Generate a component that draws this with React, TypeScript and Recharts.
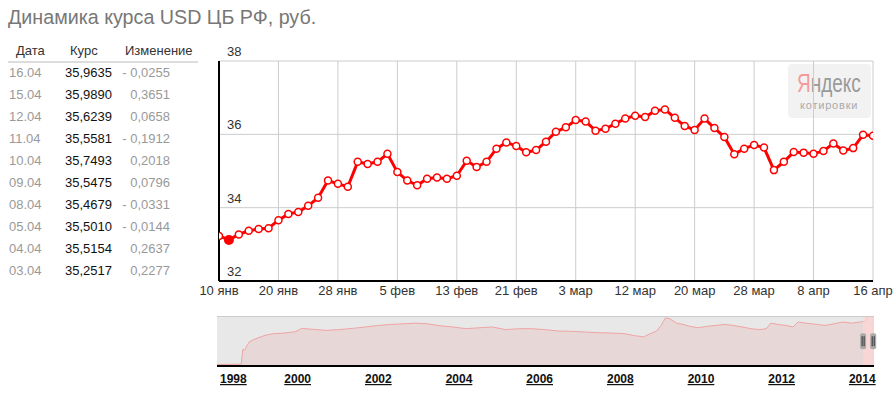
import React from "react";
import {
  LineChart,
  Line,
  XAxis,
  YAxis,
  CartesianGrid,
  AreaChart,
  Area,
  ReferenceArea,
  ReferenceDot,
  ReferenceLine,
} from "recharts";

const FONT = "Arial, 'Liberation Sans', sans-serif";

// курс USD ЦБ РФ, 10 янв – 16 апр 2014 (по точкам графика)
const rates = [
  33.23, 33.12, 33.27, 33.37, 33.42, 33.44, 33.66, 33.83, 33.88, 34.05,
  34.27, 34.74, 34.65, 34.57, 35.25, 35.19, 35.25, 35.47, 34.97, 34.74,
  34.61, 34.79, 34.82, 34.79, 34.87, 35.28, 35.11, 35.25, 35.61, 35.78,
  35.68, 35.51, 35.57, 35.8, 36.07, 36.19, 36.39, 36.35, 36.1, 36.15,
  36.29, 36.43, 36.51, 36.47, 36.64, 36.68, 36.45, 36.23, 36.12, 36.43,
  36.17, 35.93, 35.46, 35.61, 35.71, 35.64, 35.024, 35.2517, 35.5154, 35.501,
  35.4679, 35.5475, 35.7493, 35.5581, 35.6239, 35.989, 35.9635,
];

const xTicks = [0, 6, 12, 18, 24, 30, 36, 42, 48, 54, 60, 66];
const xTickLabels = [
  "10 янв", "20 янв", "28 янв", "5 фев", "13 фев", "21 фев",
  "3 мар", "12 мар", "20 мар", "28 мар", "8 апр", "16 апр",
];
const yTicks = [32, 34, 36, 38];

// таблица
const tableDates = ["16.04", "15.04", "12.04", "11.04", "10.04", "09.04", "08.04", "05.04", "04.04", "03.04"];
const tableRates = ["35,9635", "35,9890", "35,6239", "35,5581", "35,7493", "35,5475", "35,4679", "35,5010", "35,5154", "35,2517"];
const tableChanges = ["- 0,0255", "0,3651", "0,0658", "- 0,1912", "0,2018", "0,0796", "- 0,0331", "- 0,0144", "0,2637", "0,2277"];

// навигатор 1998–2014
const navYears = [
  1998.0, 1998.6, 1998.64, 1998.68, 1998.8, 1998.91, 1999.19, 1999.4, 1999.67, 1999.95,
  2000.1, 2000.38, 2000.7, 2001.03, 2001.36, 2001.68, 2002.0, 2002.33, 2002.66, 2002.93,
  2003.2, 2003.53, 2003.85, 2004.18, 2004.5, 2004.83, 2005.16, 2005.48, 2005.81, 2006.13,
  2006.46, 2006.79, 2007.11, 2007.44, 2007.76, 2008.09, 2008.36, 2008.58, 2008.74, 2008.9,
  2009.01, 2009.12, 2009.23, 2009.39, 2009.55, 2009.72, 2009.93, 2010.15, 2010.37, 2010.59,
  2010.8, 2011.02, 2011.24, 2011.45, 2011.62, 2011.73, 2011.89, 2012.11, 2012.28, 2012.41,
  2012.6, 2012.87, 2013.08, 2013.3, 2013.52, 2013.73, 2013.95, 2014.06, 2014.11, 2014.29,
];
const navValues = [
  5.96, 6.2, 15.7, 15.2, 20.6, 22.1, 24.8, 25.9, 26.3, 27.2,
  29.3, 28.7, 28.0, 28.5, 29.3, 30.2, 31.2, 31.9, 32.3, 32.7,
  32.3, 31.0, 30.2, 29.1, 29.7, 30.2, 28.5, 29.1, 29.1, 28.5,
  27.6, 27.4, 27.0, 26.5, 26.3, 25.9, 24.6, 23.8, 25.9, 27.6,
  31.2, 36.1, 35.5, 32.7, 31.9, 30.6, 29.7, 30.6, 31.2, 31.9,
  31.2, 30.2, 29.1, 28.5, 29.1, 32.7, 31.9, 31.2, 30.2, 33.4,
  32.7, 31.9, 31.2, 32.3, 33.4, 32.7, 33.4, 34.0, 36.6, 37.0,
];
const navTicks = [1998, 2000, 2002, 2004, 2006, 2008, 2010, 2012, 2014];
const navSelection = [2014.02, 2014.27];

const chartData = rates.map((v, i) => ({ i, v }));
const navData = navYears.map((year, k) => ({ year, v: navValues[k] }));
const minRate = Math.min(...rates);

const RateDot = (p: any) => {
  if (p.payload.v === minRate) {
    return <circle key={p.index} cx={p.cx} cy={p.cy} r={5} fill="#ff0000" />;
  }
  return (
    <circle key={p.index} cx={p.cx} cy={p.cy} r={3.5} fill="#fff" stroke="#ff0000" strokeWidth={1.5} />
  );
};

const YTick = (p: any) => (
  <text x={p.x + 8} y={p.y - 5} fontSize={13} fill="#333" fontFamily={FONT} textAnchor="start">
    {p.payload.value}
  </text>
);

const NavTick = (p: any) => {
  const first = p.payload.value === navTicks[0];
  return (
    <text
      x={first ? p.x + 3 : p.x}
      y={p.y + 9}
      fontSize={12}
      fontWeight="bold"
      fill="#111"
      fontFamily={FONT}
      textAnchor={first ? "start" : "middle"}
      textDecoration="underline"
    >
      {p.payload.value}
    </text>
  );
};

const Handle = (p: any) => (
  <g>
    <rect x={p.cx - 3} y={p.cy - 8} width={6} height={16} rx={2} fill="#aaa" />
    <line x1={p.cx - 1} x2={p.cx - 1} y1={p.cy - 5} y2={p.cy + 5} stroke="#333" strokeWidth={1} />
    <line x1={p.cx + 1} x2={p.cx + 1} y1={p.cy - 5} y2={p.cy + 5} stroke="#333" strokeWidth={1} />
  </g>
);

const cell = (left: number, color: string, extra?: React.CSSProperties): React.CSSProperties => ({
  position: "absolute",
  left,
  color,
  ...extra,
});

export default function App() {
  return (
    <div style={{ position: "absolute", left: 0, top: 0, width: 894, height: 395, fontFamily: FONT, overflow: "hidden", background: "#fff" }}>
      <div style={{ position: "absolute", left: 8, top: 6, fontSize: 19.7, color: "#777", whiteSpace: "nowrap" }}>
        Динамика курса USD ЦБ РФ, руб.
      </div>

      {/* таблица */}
      <div style={{ position: "absolute", left: 8, top: 40, width: 190, height: 21, borderBottom: "2px solid #ddd", fontSize: 13, lineHeight: "22px" }}>
        <span style={cell(8, "#333")}>Дата</span>
        <span style={cell(62, "#333")}>Курс</span>
        <span style={cell(117, "#333")}>Изменение</span>
      </div>
      {tableDates.map((d, k) => (
        <div key={d} style={{ position: "absolute", left: 8, top: 62 + k * 22, width: 190, height: 22, fontSize: 13, lineHeight: "22px" }}>
          <span style={cell(1, "#999")}>{d}</span>
          <span style={cell(57, "#111")}>{tableRates[k]}</span>
          <span style={cell(100, "#999", { width: 62, textAlign: "right" })}>{tableChanges[k]}</span>
        </div>
      ))}

      {/* водяной знак */}
      <div style={{ position: "absolute", left: 788, top: 64, width: 83, height: 54, background: "#f2f2f2", borderRadius: 4 }}>
        <svg width={83} height={54}>
          <g transform="translate(9,28) scale(0.76,1)">
            <text x={0} y={0} fontSize={25} fontFamily={FONT}>
              <tspan fill="#f59a9a">Я</tspan>
              <tspan fill="#9a9a9a">ндекс</tspan>
            </text>
          </g>
          <text x={12} y={45} fontSize={11} fontFamily={FONT} fill="#aaa" letterSpacing={0.8}>
            котировки
          </text>
        </svg>
      </div>

      <div style={{ position: "absolute", left: 0, top: 0 }}>
        <LineChart width={894} height={310} data={chartData} margin={{ top: 61, left: 159, right: 21, bottom: 0 }}>
          <CartesianGrid stroke="#ccc" strokeWidth={1} />
          <XAxis
            dataKey="i"
            type="number"
            domain={[0, 66]}
            allowDataOverflow
            ticks={xTicks}
            interval={0}
            height={29}
            tickSize={0}
            tickMargin={5}
            tickFormatter={(v: number) => xTickLabels[xTicks.indexOf(v)]}
            tick={{ fontSize: 13, fill: "#333", fontFamily: FONT }}
            axisLine={{ stroke: "#000", strokeWidth: 2 }}
          />
          <YAxis
            type="number"
            domain={[32, 38]}
            ticks={yTicks}
            interval={0}
            width={60}
            tickSize={0}
            tickMargin={0}
            tick={YTick}
            axisLine={{ stroke: "#000", strokeWidth: 2 }}
          />
          <Line type="linear" dataKey="v" stroke="#ff0000" strokeWidth={3} dot={RateDot} activeDot={false} isAnimationActive={false} />
        </LineChart>
      </div>

      {/* навигатор */}
      <div style={{ position: "absolute", left: 0, top: 316 }}>
        <AreaChart width={894} height={74} data={navData} margin={{ top: 0, left: 217, right: 20, bottom: 0 }}>
          <CartesianGrid fill="#e8e8e8" horizontal={false} vertical={false} />
          <XAxis
            dataKey="year"
            type="number"
            domain={[1998, 2014.29]}
            ticks={navTicks}
            interval={0}
            height={24}
            tickLine={false}
            tick={NavTick}
            axisLine={{ stroke: "#000", strokeWidth: 2 }}
          />
          <YAxis hide domain={[5, 37.3]} />
          <ReferenceLine y={37.3} stroke="#ccc" strokeWidth={2} />
          <Area type="linear" dataKey="v" stroke="#f0a4a4" strokeWidth={1} fill="#e8d7d7" fillOpacity={1} isAnimationActive={false} />
          <ReferenceArea x1={navSelection[0]} x2={navSelection[1]} fill="#ffd6d6" fillOpacity={0.7} stroke="none" />
          <ReferenceDot x={navSelection[0]} y={21} shape={Handle} />
          <ReferenceDot x={navSelection[1]} y={21} shape={Handle} />
        </AreaChart>
      </div>
    </div>
  );
}
